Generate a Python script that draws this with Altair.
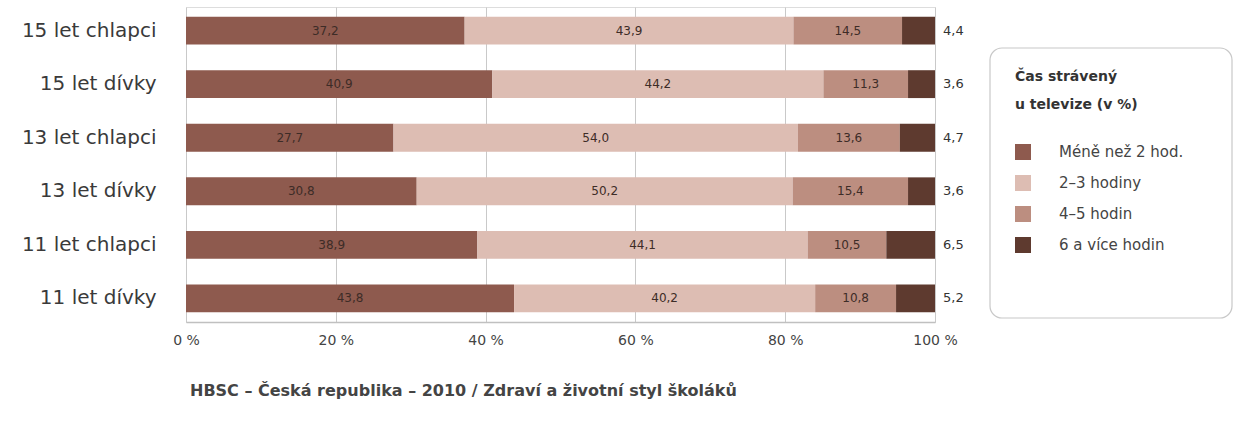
import altair as alt
import pandas as pd

groups = ["15 let chlapci", "15 let dívky", "13 let chlapci", "13 let dívky", "11 let chlapci", "11 let dívky"]
categories = ["Méně než 2 hod.", "2–3 hodiny", "4–5 hodin", "6 a více hodin"]
less2 = [37.2, 40.9, 27.7, 30.8, 38.9, 43.8]
h23 = [43.9, 44.2, 54.0, 50.2, 44.1, 40.2]
h45 = [14.5, 11.3, 13.6, 15.4, 10.5, 10.8]
h6 = [4.4, 3.6, 4.7, 3.6, 6.5, 5.2]
colors = ["#8e5a4e", "#ddbdb3", "#bc8e80", "#5e3a2f"]
x_ticks = [0, 20, 40, 60, 80, 100]
legend_title = ["Čas strávený", "u televize (v %)"]
footer = "HBSC – Česká republika – 2010  /  Zdraví a životní styl školáků"

rows = []
for series_i, series in enumerate([less2, h23, h45, h6]):
    for g, v in zip(groups, series):
        rows.append({"group": g, "cat": categories[series_i], "ord": series_i + 1, "value": v})
df = pd.DataFrame(rows)

FONT = "DejaVu Sans"

xscale = alt.Scale(domain=[0, 100], nice=False)
yscale = alt.Scale(paddingInner=0.48, paddingOuter=0.18)

base = alt.Chart(df)

bars = base.mark_bar().encode(
    x=alt.X("value:Q", stack="zero", scale=xscale,
            axis=alt.Axis(values=x_ticks, labelExpr="datum.value + ' %'", title=None,
                          grid=True, gridColor="#c9c9c9", ticks=False, domain=True,
                          domainColor="#c0c0c0", domainWidth=1.5,
                          labelFontSize=14, labelColor="#444444", labelPadding=11,
                          labelFlush=False, labelFont=FONT)),
    y=alt.Y("group:N", sort=groups, scale=yscale,
            axis=alt.Axis(title=None, ticks=False, domain=False, labelFontSize=20,
                          labelColor="#3a3a3a", labelPadding=30, labelFont=FONT)),
    color=alt.Color("cat:N", scale=alt.Scale(domain=categories, range=colors),
                    legend=alt.Legend(title=legend_title, orient="none", legendX=829, legendY=63,
                                      symbolType="square", symbolSize=256, symbolStrokeWidth=0,
                                      labelFontSize=15, labelFont=FONT, labelColor="#444444",
                                      labelOffset=28, rowPadding=15,
                                      titleFontSize=14, titleFont=FONT, titleFontWeight="bold",
                                      titleColor="#333333", titleLineHeight=28, titlePadding=32)),
    order=alt.Order("ord:Q"),
)

stacked = base.transform_stack(
    stack="value", groupby=["group"], as_=["x0", "x1"], sort=[alt.SortField("ord", order="ascending")]
).transform_calculate(
    mid="(datum.x0 + datum.x1) / 2",
    label="replace(format(datum.value, '.1f'), '.', ',')",
)

text_in = stacked.transform_filter("datum.ord < 4").mark_text(
    fontSize=12, font=FONT, color="#3d2c27"
).encode(
    x=alt.X("mid:Q", scale=xscale),
    y=alt.Y("group:N", sort=groups, scale=yscale),
    text="label:N",
)

text_out = stacked.transform_filter("datum.ord == 4").mark_text(
    fontSize=13, font=FONT, color="#333333", align="left", dx=8
).encode(
    x=alt.X("x1:Q", scale=xscale),
    y=alt.Y("group:N", sort=groups, scale=yscale),
    text="label:N",
)

box = alt.Chart(pd.DataFrame({"a": [0]})).mark_rect(
    fill="white", stroke="#c8c8c8", strokeWidth=1.2, cornerRadius=12
).encode(
    x=alt.value(804), x2=alt.value(1046), y=alt.value(41), y2=alt.value(311)
)

chart = alt.layer(box, bars, text_in, text_out).properties(
    width=749,
    height=315,
    autosize=alt.AutoSizeParams(type="none"),
    padding={"left": 186, "top": 7, "right": 299, "bottom": 99},
    title=alt.TitleParams(footer, orient="bottom", anchor="start", frame="group", offset=36,
                          fontSize=16, font=FONT, fontWeight="bold", color="#444444", dx=4),
).configure_view(strokeWidth=0).configure(background="white")

chart.save("out.html", embed_options={"renderer": "svg", "actions": False})
